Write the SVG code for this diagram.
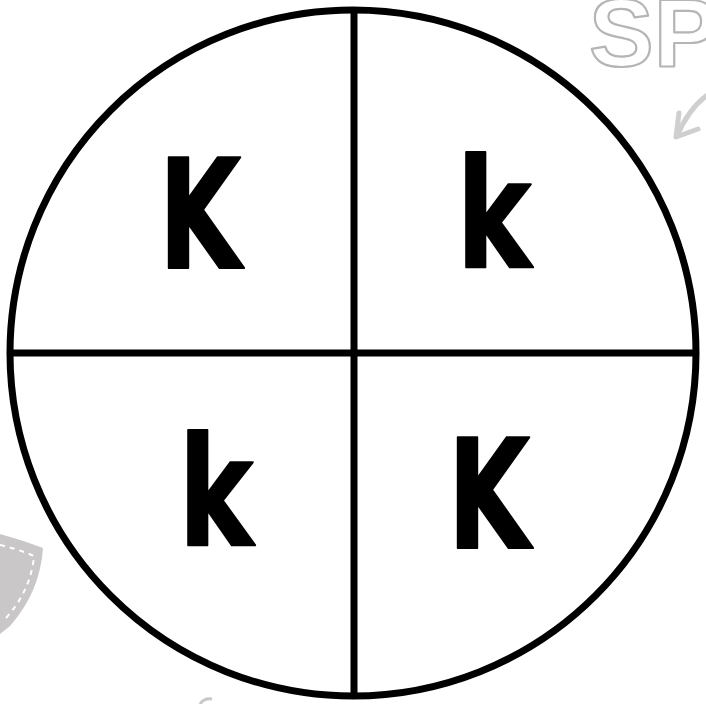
<svg xmlns="http://www.w3.org/2000/svg" width="706" height="704" viewBox="0 0 706 704">
  <style>
    .letter { font-family: "DejaVu Sans", "Liberation Sans", sans-serif; font-weight: bold; font-size: 152px; fill: #000; text-anchor: middle; stroke: #000; stroke-width: 2; stroke-linejoin: round; }
    .deco { fill: #c9c7c7; }
    .line { stroke: #000; stroke-width: 7; fill: none; }
  </style>
  <rect width="706" height="704" fill="#fff"/>
  <g id="background-decor">
    <text x="589" y="66" font-family="'Liberation Sans', Arial, sans-serif" font-weight="bold" font-size="97" fill="#fff" stroke="#b5b5b5" stroke-width="2.2" stroke-linejoin="round">SP</text>
    <path d="M706,96 Q688,110 677,136" fill="none" stroke="#cfcfcf" stroke-width="5" stroke-linecap="round"/>
    <path d="M679,113 L676,137 L698,129" fill="none" stroke="#cfcfcf" stroke-width="5" stroke-linecap="round" stroke-linejoin="round"/>
    <path class="deco" d="M0,534 Q22,540 43,548 Q40,592 10,626 L0,634 Z"/>
    <path d="M0,545 Q18,549 34,556 Q31,590 6,618" fill="none" stroke="#fff" stroke-width="2" stroke-dasharray="5,5"/>
    <path d="M200,704 Q204,698 212,699" fill="none" stroke="#c9c7c7" stroke-width="3"/>
  </g>
  <g id="connectors">
    <circle cx="353" cy="353" r="343" class="line" stroke-width="8"/>
    <line x1="354" y1="12" x2="354" y2="696" class="line"/>
    <line x1="11" y1="353" x2="696" y2="353" class="line"/>
  </g>
  <g id="q1"><text class="letter" transform="translate(200,268) scale(0.7,1)">K</text></g>
  <g id="q2"><text class="letter" transform="translate(494,267) scale(0.74,1)">k</text></g>
  <g id="q3"><text class="letter" transform="translate(216,545) scale(0.74,1)">k</text></g>
  <g id="q4"><text class="letter" transform="translate(489,548) scale(0.7,1)">K</text></g>
</svg>
